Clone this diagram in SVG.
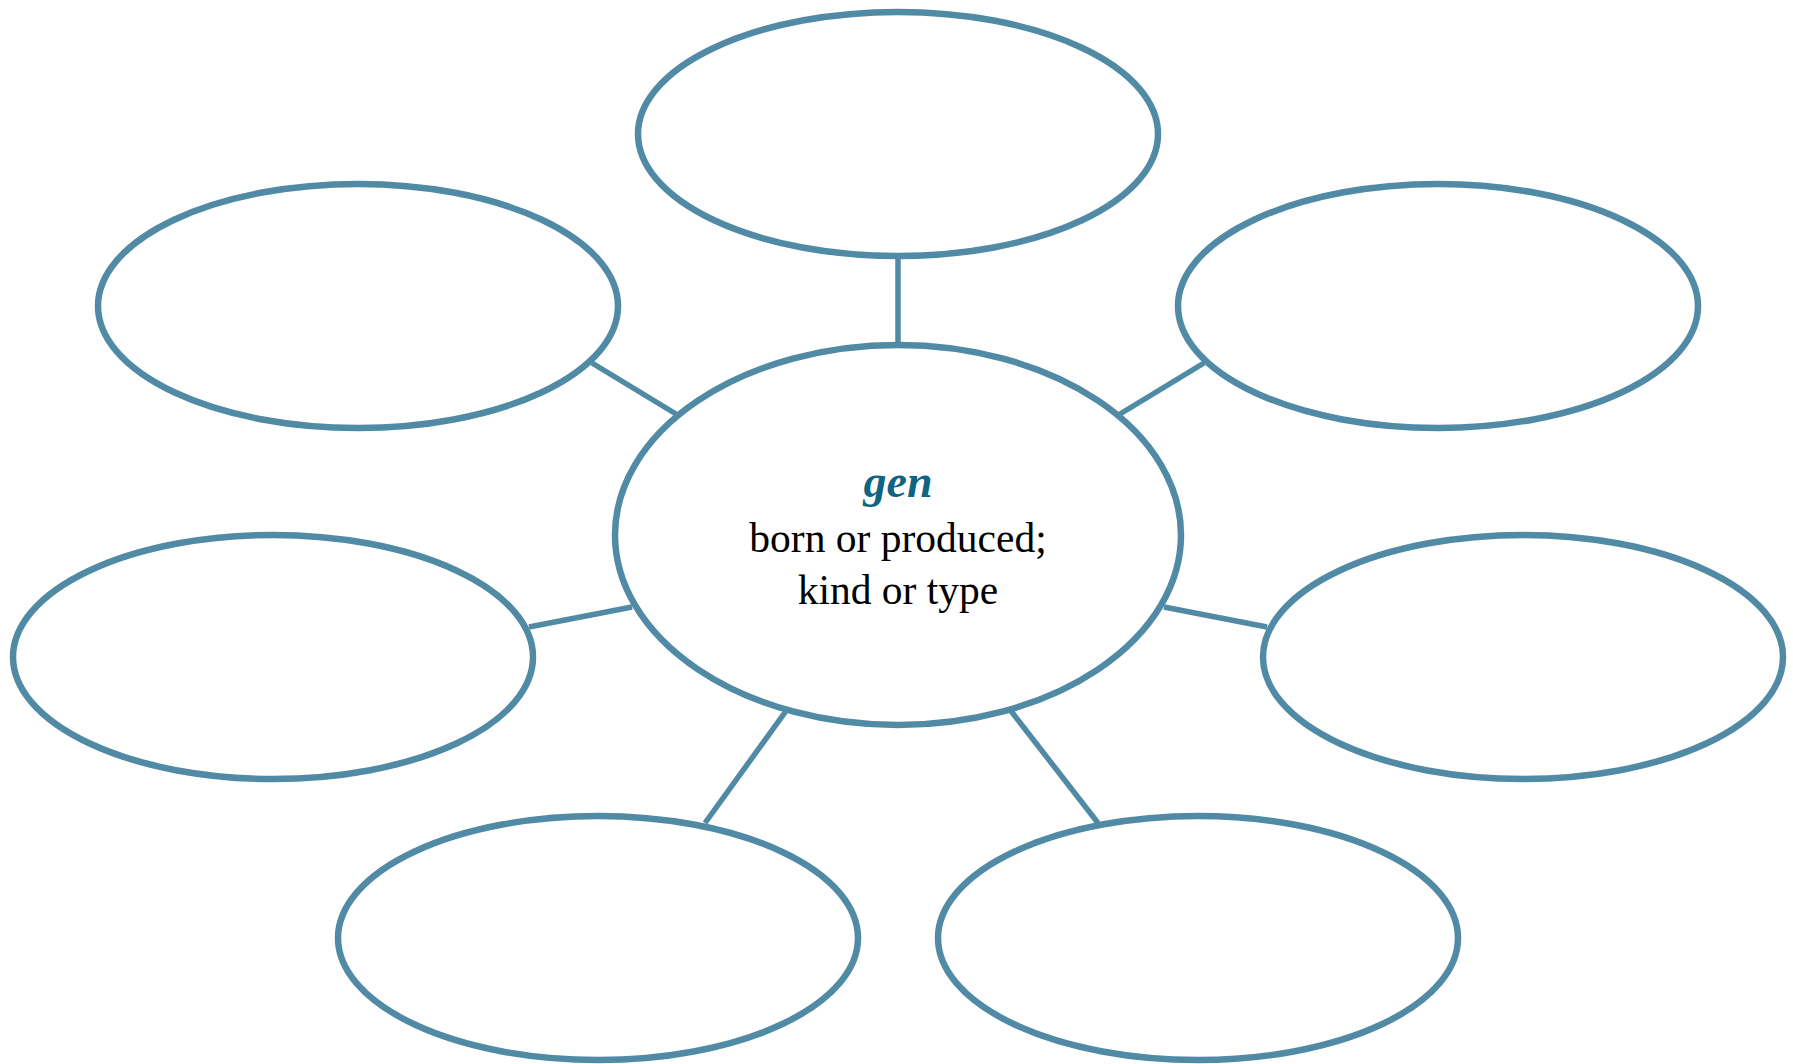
<svg xmlns="http://www.w3.org/2000/svg" width="1793" height="1064" viewBox="0 0 1793 1064">
<style>
.node{fill:#ffffff;stroke:#508aa5;stroke-width:6.5}
.conn line{stroke:#508aa5;stroke-width:5.5}
.t{font-family:"Liberation Serif","Times New Roman",serif;font-size:41.5px;fill:#000;text-anchor:middle}
.h{font-family:"Liberation Serif","Times New Roman",serif;font-size:46px;font-weight:bold;font-style:italic;fill:#0f6482;text-anchor:middle}
</style>
<rect width="1793" height="1064" fill="#ffffff"/>
<g id="connectors" class="conn">
<line x1="898" y1="256" x2="898" y2="344"/>
<line x1="592" y1="363" x2="676" y2="414"/>
<line x1="1204" y1="363" x2="1120" y2="414"/>
<line x1="529" y1="627" x2="632" y2="607"/>
<line x1="1267" y1="627" x2="1164" y2="607"/>
<line x1="705" y1="823" x2="786" y2="711"/>
<line x1="1098" y1="823" x2="1011" y2="711"/>
</g>
<g id="node-top"><ellipse class="node" cx="898" cy="134" rx="260" ry="122"/></g>
<g id="node-upper-left"><ellipse class="node" cx="358" cy="306" rx="260" ry="122"/></g>
<g id="node-upper-right"><ellipse class="node" cx="1438" cy="306" rx="260" ry="122"/></g>
<g id="node-middle-left"><ellipse class="node" cx="273" cy="657" rx="260" ry="122"/></g>
<g id="node-middle-right"><ellipse class="node" cx="1523" cy="657" rx="260" ry="122"/></g>
<g id="node-bottom-left"><ellipse class="node" cx="598" cy="938" rx="260" ry="122"/></g>
<g id="node-bottom-right"><ellipse class="node" cx="1198" cy="938" rx="260" ry="122"/></g>
<g id="node-center">
<ellipse class="node" cx="898" cy="535" rx="283" ry="190"/>
<text class="h" x="898" y="497">gen</text>
<text class="t" x="898" y="552">born or produced;</text>
<text class="t" x="898" y="604">kind or type</text>
</g>
</svg>
